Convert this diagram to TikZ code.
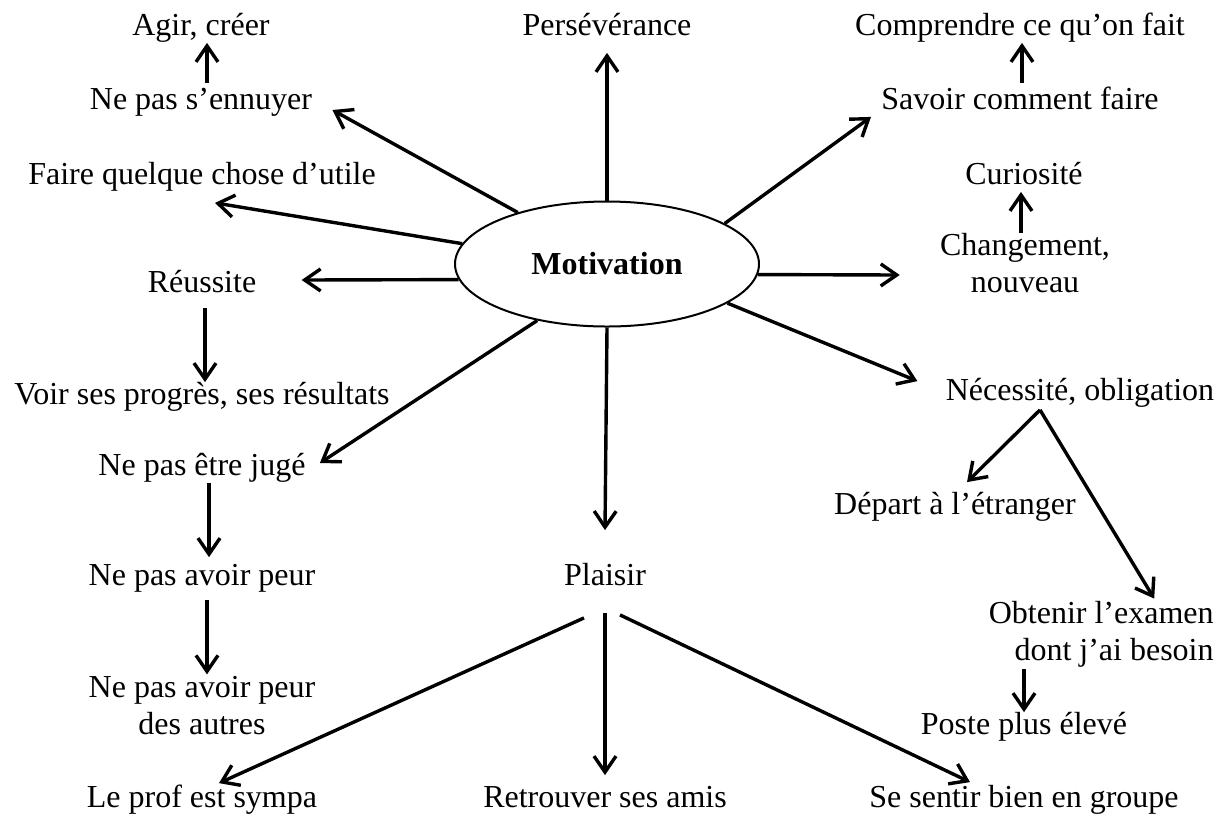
\documentclass[tikz,border=0pt]{standalone}
\usepackage{fontspec}
\setmainfont{Liberation Serif}
\usetikzlibrary{shapes.geometric,arrows.meta}

\tikzset{
  lbl/.style={font=\fontsize{16}{18.5}\selectfont, inner sep=0pt, text height=11pt, text depth=3.5pt},
  lbltwo/.style={font=\fontsize{16}{18.5}\selectfont, inner sep=0pt, align=center},
  arr/.style={line width=1.7pt, -{Straight Barb[length=8pt,width=11pt]}},
}

\begin{document}
\begin{tikzpicture}[x=0.5pt,y=-0.5pt]
\useasboundingbox (0,0) rectangle (1215,816);
\node[ellipse, draw, line width=1pt, minimum width=152pt, minimum height=62.5pt, inner sep=0pt,
  font=\fontsize{16}{18.5}\selectfont\bfseries] (motiv) at (607,264) {Motivation};
\node[lbl] (agir) at (201,28) {Agir, créer};
\node[lbl] (persev) at (607,28) {Persévérance};
\node[lbl] (compr) at (1020,28) {Comprendre ce qu’on fait};
\node[lbl] (ennuyer) at (201,102) {Ne pas s’ennuyer};
\node[lbl] (savoir) at (1020,102) {Savoir comment faire};
\node[lbl] (faire) at (202,177) {Faire quelque chose d’utile};
\node[lbl] (curio) at (1024,177) {Curiosité};
\node[lbl] (reussite) at (202,285) {Réussite};
\node[lbltwo] (chang) at (1025,263) {Changement,\\nouveau};
\node[lbl] (voir) at (202,397) {Voir ses progrès, ses résultats};
\node[lbl] (necess) at (1080,393) {Nécessité, obligation};
\node[lbl] (juge) at (202,468) {Ne pas être jugé};
\node[lbl] (depart) at (955,507) {Départ à l’étranger};
\node[lbl] (peur) at (202,578) {Ne pas avoir peur};
\node[lbl] (plaisir) at (605,578) {Plaisir};
\node[lbltwo, align=right, anchor=east] (obtenir) at (1214,634) {Obtenir l’examen\\dont j’ai besoin};
\node[lbltwo] (peurautres) at (202,706) {Ne pas avoir peur\\des autres};
\node[lbl] (poste) at (1024,727) {Poste plus élevé};
\node[lbl] (prof) at (202,800) {Le prof est sympa};
\node[lbl] (retrouver) at (605,800) {Retrouver ses amis};
\node[lbl] (sentir) at (1024,800) {Se sentir bien en groupe};
\coordinate (fork) at ([shift={(-40,2)}]necess.south);

\draw[arr] ([shift={(6,-4)}]ennuyer.north) -- ([shift={(6,0)}]agir.south);
\draw[arr] (motiv.150) -- ([shift={(20,8)}]ennuyer.east);
\draw[arr] (motiv.172) -- ([shift={(13,11)}]faire.south);
\draw[arr] (motiv.186) -- ([shift={(45,-5)}]reussite.east);
\draw[arr] ([shift={(3,8)}]reussite.south) -- ([shift={(3,0)}]voir.north);
\draw[arr] (motiv.219) -- ([shift={(14,-5)}]juge.east);
\draw[arr] ([shift={(7,0)}]juge.south) -- ([shift={(7,-6)}]peur.north);
\draw[arr] ([shift={(5,7)}]peur.south) -- ([shift={(5,-2)}]peurautres.north);
\draw[arr] (motiv.270) -- ([shift={(0,-33)}]plaisir.north);
\draw[arr] ([shift={(-21,25)}]plaisir.south) -- ([shift={(17,-2)}]prof.north);
\draw[arr] ([shift={(0,20)}]plaisir.south) -- ([shift={(0,-10)}]retrouver.north);
\draw[arr] ([shift={(15,22)}]plaisir.south) -- ([shift={(-54,-3)}]sentir.north);
\draw[arr] (motiv.90) -- ([shift={(0,10)}]persev.south);
\draw[arr] (motiv.19) -- ([shift={(-10,0)}]savoir.south west);
\draw[arr] ([shift={(2,-4)}]savoir.north) -- ([shift={(2,0)}]compr.south);
\draw[arr] ([shift={(-4,0)}]chang.north) -- ([shift={(-3,0)}]curio.south);
\draw[arr] (motiv.-4) -- ([shift={(-40,12)}]chang.west);
\draw[arr] (motiv.-18) -- ([shift={(-28,3)}]necess.north west);
\draw[arr] (fork) -- ([shift={(12,-10)}]depart.north);
\draw[arr] (fork) -- ([shift={(53,-2)}]obtenir.north);
\draw[arr] ([shift={(0,2)}]poste.north |- obtenir.south) -- (poste.north);
\end{tikzpicture}
\end{document}
